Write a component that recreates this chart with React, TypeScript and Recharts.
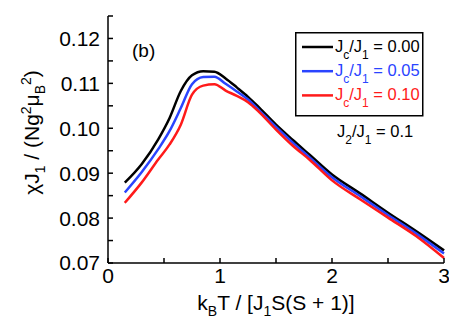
import { LineChart, Line, XAxis, YAxis, Legend, Label } from 'recharts';

const temps = [0.15, 0.3, 0.45, 0.55, 0.65, 0.75, 0.85, 0.95, 1.05, 1.15, 1.25, 1.35, 1.5, 1.65, 1.8, 2.0, 2.25, 2.5, 2.75, 3.0];
const chiJc000 = [0.0879, 0.092, 0.0976, 0.1023, 0.1083, 0.1118, 0.1127, 0.1126, 0.1111, 0.1091, 0.107, 0.1046, 0.1008, 0.0974, 0.0941, 0.0897, 0.0855, 0.0812, 0.0771, 0.0728];
const chiJc005 = [0.0857, 0.0902, 0.0954, 0.0994, 0.1045, 0.1098, 0.1114, 0.1115, 0.1099, 0.1082, 0.1064, 0.104, 0.1003, 0.0968, 0.0935, 0.0891, 0.0849, 0.0807, 0.0766, 0.0721];
const chiJc010 = [0.0834, 0.0879, 0.0931, 0.0964, 0.1008, 0.1075, 0.1095, 0.1098, 0.1084, 0.1072, 0.1058, 0.1036, 0.0997, 0.0961, 0.093, 0.0884, 0.0842, 0.0801, 0.076, 0.0711];

const xTicks = [0, 0.5, 1, 1.5, 2, 2.5, 3];
const yTicks = [0.07, 0.075, 0.08, 0.085, 0.09, 0.095, 0.1, 0.105, 0.11, 0.115, 0.12, 0.125];

const seriesInfo = [
    { key: 'c000', label: '0.00', color: '#000000' },
    { key: 'c005', label: '0.05', color: '#2a44ff' },
    { key: 'c010', label: '0.10', color: '#ff1a1a' },
];

const data = temps.map((t, i) => ({ t, c000: chiJc000[i], c005: chiJc005[i], c010: chiJc010[i] }));

const FONT = '"Liberation Sans", Arial, sans-serif';

const xFmt = (v: number) => (Number.isInteger(v) ? String(v) : '');
const yFmt = (v: number) => (Math.round(v * 1000) % 10 === 0 && v < 0.1245 ? v.toFixed(2) : '');
const blank = () => '';

function LegendBox() {
    return (
        <svg width={130} height={112} style={{ fontFamily: FONT, overflow: 'visible' }}>
            <rect x={0.75} y={0.75} width={127} height={83} fill="#fff" stroke="#000" strokeWidth={1.5} />
            {seriesInfo.map((s, i) => {
                const base = 20 + i * 24.2;
                return (
                    <g key={s.key}>
                        <line x1={7} x2={38} y1={base - 5} y2={base - 5} stroke={s.color} strokeWidth={2.5} />
                        <text x={40} y={base} fill={s.color} fontSize={16.5}>
                            J<tspan fontSize={12} dy={7}>c</tspan>
                            <tspan dy={-7}>/J</tspan>
                            <tspan fontSize={12} dy={7}>1</tspan>
                            <tspan dy={-7}> = {s.label}</tspan>
                        </text>
                    </g>
                );
            })}
            <text x={42} y={105} fill="#000" fontSize={16.5}>
                J<tspan fontSize={12} dy={7}>2</tspan>
                <tspan dy={-7}>/J</tspan>
                <tspan fontSize={12} dy={7}>1</tspan>
                <tspan dy={-7}> = 0.1</tspan>
            </text>
        </svg>
    );
}

function XTitle(props: any) {
    const vb = props.viewBox;
    return (
        <text x={vb.x + vb.width / 2} y={vb.y + 47} textAnchor="middle" fontSize={21} fontFamily={FONT} fill="#000">
            k<tspan fontSize={14} dy={6}>B</tspan>
            <tspan dy={-6}>T / [J</tspan>
            <tspan fontSize={14} dy={6}>1</tspan>
            <tspan dy={-6}>S(S + 1)]</tspan>
        </text>
    );
}

function YTitle(props: any) {
    const vb = props.viewBox;
    const cx = 31;
    const cy = vb.y + vb.height / 2 - 7;
    return (
        <text x={cx} y={cy} transform={`rotate(-90 ${cx} ${cy})`} textAnchor="middle" fontSize={21} fontFamily={FONT} fill="#000">
            χJ<tspan fontSize={14} dy={6}>1</tspan>
            <tspan dy={-6}> / (Ng</tspan>
            <tspan fontSize={14} dy={-8}>2</tspan>
            <tspan dy={8}>μ</tspan>
            <tspan fontSize={14} dy={6}>B</tspan>
            <tspan fontSize={14} dy={-14}>2</tspan>
            <tspan dy={8}>)</tspan>
        </text>
    );
}

export default function App() {
    return (
        <div style={{ width: 449, height: 311, position: 'relative' }}>
            <LineChart width={449} height={311} data={data} margin={{ top: 8, right: 13, bottom: 0, left: 0 }}>
                <XAxis
                    xAxisId="b"
                    dataKey="t"
                    type="number"
                    domain={[0, 3]}
                    ticks={xTicks}
                    tickFormatter={xFmt}
                    height={56}
                    tickSize={-5}
                    tickMargin={10}
                    interval={0}
                    stroke="#000"
                    strokeWidth={1.5}
                    tick={{ fill: '#000', fontSize: 21, fontFamily: FONT }}
                >
                    <Label content={XTitle} />
                </XAxis>
                <XAxis
                    xAxisId="top"
                    orientation="top"
                    dataKey="t"
                    type="number"
                    domain={[0, 3]}
                    ticks={xTicks}
                    tickFormatter={blank}
                    height={0}
                    tickSize={-5}
                    interval={0}
                    stroke="#000"
                    strokeWidth={1.5}
                />
                <YAxis
                    yAxisId="l"
                    type="number"
                    domain={[0.07, 0.125]}
                    ticks={yTicks}
                    tickFormatter={yFmt}
                    width={100}
                    tickSize={-5}
                    tickMargin={13}
                    interval={0}
                    stroke="#000"
                    strokeWidth={1.5}
                    tick={{ fill: '#000', fontSize: 21, fontFamily: FONT }}
                >
                    <Label content={YTitle} />
                </YAxis>
                <YAxis
                    yAxisId="r"
                    orientation="right"
                    type="number"
                    domain={[0.07, 0.125]}
                    ticks={yTicks}
                    tickFormatter={blank}
                    width={0}
                    tickSize={-5}
                    interval={0}
                    stroke="#000"
                    strokeWidth={1.5}
                />
                {seriesInfo.map((s) => (
                    <Line
                        key={s.key}
                        xAxisId="b"
                        yAxisId="l"
                        dataKey={s.key}
                        type="monotone"
                        stroke={s.color}
                        strokeWidth={2.5}
                        dot={false}
                        isAnimationActive={false}
                    />
                ))}
                <text x={124} y={49} fontSize={19} fontFamily={FONT} fill="#000">(b)</text>
                <Legend
                    layout="vertical"
                    align="center"
                    verticalAlign="middle"
                    content={() => <LegendBox />}
                    wrapperStyle={{ left: 287, top: 24, width: 130, height: 112 }}
                />
            </LineChart>
        </div>
    );
}
